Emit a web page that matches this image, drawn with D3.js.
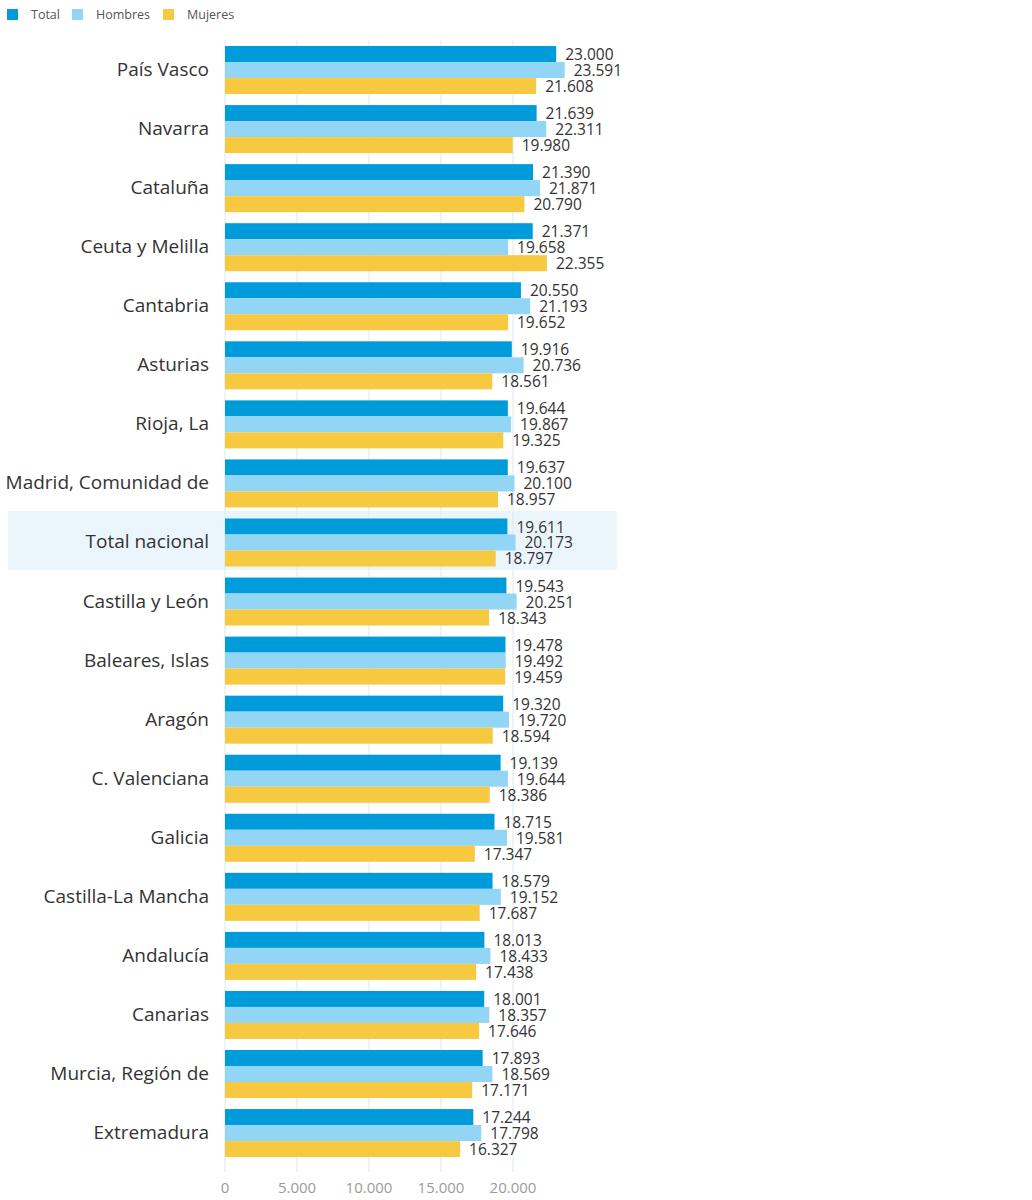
<!DOCTYPE html>
<html><head><meta charset="utf-8">
<script src="https://cdn.jsdelivr.net/npm/d3@7"></script>
<style>body{margin:0;background:#fff;font-family:"Open Sans","Noto Sans",sans-serif;}</style>
</head><body><svg id="c" width="1032" height="1200"></svg>
<script>
const categories = ["País Vasco","Navarra","Cataluña","Ceuta y Melilla","Cantabria","Asturias","Rioja, La","Madrid, Comunidad de","Total nacional","Castilla y León","Baleares, Islas","Aragón","C. Valenciana","Galicia","Castilla-La Mancha","Andalucía","Canarias","Murcia, Región de","Extremadura"];
const seriesNames = ["Total","Hombres","Mujeres"];
const total   = [23000,21639,21390,21371,20550,19916,19644,19637,19611,19543,19478,19320,19139,18715,18579,18013,18001,17893,17244];
const hombres = [23591,22311,21871,19658,21193,20736,19867,20100,20173,20251,19492,19720,19644,19581,19152,18433,18357,18569,17798];
const mujeres = [21608,19980,20790,22355,19652,18561,19325,18957,18797,18343,19459,18594,18386,17347,17687,17438,17646,17171,16327];
const ticks = [0,5000,10000,15000,20000];
const highlight = "Total nacional";
const colors = ["#009bdb","#93d5f4","#f6c940"];

const svg = d3.select("#c");
const fmt = v => d3.format(",")(v).replace(/,/g,".");
const x = d3.scaleLinear().domain([0,20000]).range([225,513]);
const y = d3.scaleBand().domain(categories).range([40.5,1162.6]).paddingInner(0.187).paddingOuter(0.0935);
const sub = d3.scaleBand().domain(seriesNames).range([0,y.bandwidth()]);
const data = categories.map((c,i)=>({c, vals:[total[i],hombres[i],mujeres[i]]}));

// highlight band
svg.append("rect").attr("x",8).attr("width",609)
  .attr("y",y(highlight)-y.step()*0.187/2-2).attr("height",y.step())
  .attr("fill","#ebf6fc");

// grid
svg.append("g").selectAll("line").data(ticks).join("line")
  .attr("x1",d=>x(d)).attr("x2",d=>x(d)).attr("y1",40).attr("y2",1172)
  .attr("stroke","#d9e9f2").attr("stroke-width",1);

// axis labels
svg.append("g").selectAll("text").data(ticks).join("text")
  .attr("x",d=>x(d)).attr("y",1193).attr("text-anchor","middle")
  .attr("font-size",15).attr("fill","#9a9a9a").text(fmt);

// bars
const g = svg.append("g").selectAll("g").data(data).join("g")
  .attr("transform",d=>`translate(0,${y(d.c)})`);
g.selectAll("rect").data(d=>d.vals.map((v,k)=>({v,k}))).join("rect")
  .attr("x",x(0)).attr("y",d=>sub(seriesNames[d.k])).attr("height",sub.bandwidth())
  .attr("width",d=>x(d.v)-x(0)).attr("fill",d=>colors[d.k]);
g.selectAll("text.v").data(d=>d.vals.map((v,k)=>({v,k}))).join("text").attr("class","v")
  .attr("x",d=>x(d.v)+9).attr("y",d=>sub(seriesNames[d.k])+sub.bandwidth()/2+6)
  .attr("font-size",15.5).attr("fill","#333").text(d=>fmt(d.v));

// category labels
svg.append("g").selectAll("text").data(categories).join("text")
  .attr("x",209).attr("y",d=>y(d)+y.bandwidth()/2+6).attr("text-anchor","end")
  .attr("font-size",19).attr("fill","#333").text(d=>d);

// legend
const lg = svg.append("g");
const lx = [7,72,163];
seriesNames.forEach((s,i)=>{
  lg.append("rect").attr("x",lx[i]).attr("y",9).attr("width",11).attr("height",11).attr("fill",colors[i]);
  lg.append("text").attr("x",lx[i]+24).attr("y",19).attr("font-size",12.5).attr("fill","#555").text(s);
});
</script></body></html>
